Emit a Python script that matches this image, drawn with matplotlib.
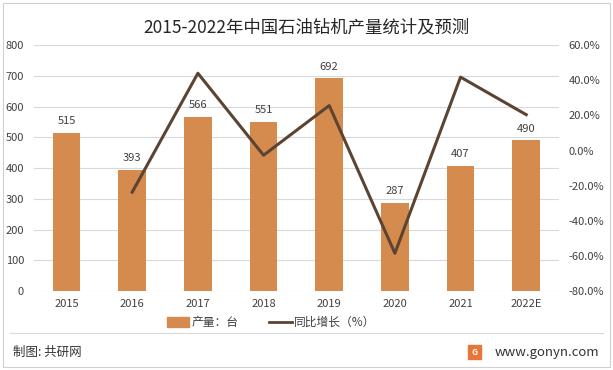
import matplotlib.pyplot as plt
from matplotlib.patches import Rectangle
from matplotlib.lines import Line2D
import numpy as np

plt.rcParams['font.family'] = ['Noto Sans CJK SC', 'DejaVu Sans']

years = ['2015', '2016', '2017', '2018', '2019', '2020', '2021', '2022E']
output = [515, 393, 566, 551, 692, 287, 407, 490]
growth = [None, -23.7, 44.0, -2.7, 25.6, -58.5, 41.8, 20.4]

bar_color = '#D68B4E'
line_color = '#5C4433'
text_color = '#404040'

fig = plt.figure(figsize=(6.13, 3.70), dpi=100)
ax = fig.add_axes([0.055, 0.2135, 0.857, 0.6645])
x = np.arange(len(years))

ax.bar(x, output, width=0.42, color=bar_color, zorder=2)
for xi, v in zip(x, output):
    ax.text(xi, v + 22, str(v), ha='center', va='bottom', fontsize=8, color=text_color)

ax.set_ylim(0, 800)
ax.set_yticks(range(0, 801, 100))
ax.set_xlim(-0.5, len(years) - 0.5)
ax.set_xticks(x)
ax.set_xticklabels(years)
ax.grid(axis='y', color='#D9D9D9', linewidth=0.8, zorder=0)
for s in ax.spines.values():
    s.set_visible(False)
ax.tick_params(length=0, labelsize=8, colors=text_color, pad=6)
ax.tick_params(axis='y', pad=7)

ax2 = ax.twinx()
gx = [xi for xi, g in zip(x, growth) if g is not None]
gy = [g for g in growth if g is not None]
ax2.plot(gx, gy, color=line_color, linewidth=2.2, zorder=3)
ax2.set_ylim(-80, 60)
ax2.set_yticks(range(-80, 61, 20))
ax2.set_yticklabels(['%.1f%%' % t for t in range(-80, 61, 20)])
for s in ax2.spines.values():
    s.set_visible(False)
ax2.tick_params(length=0, labelsize=8, colors=text_color, pad=7)

fig.text(0.5, 0.927, '2015-2022年中国石油钻机产量统计及预测', ha='center', va='center',
         fontsize=12.5, color='#262626')

# legend
handles = [Rectangle((0, 0), 1, 1, color=bar_color),
           Line2D([0], [0], color=line_color, linewidth=2)]
fig.legend(handles, ['产量：台', '同比增长（%）'], loc='center', bbox_to_anchor=(0.442, 0.128),
           ncol=2, frameon=False, fontsize=8.5, handlelength=1.9, handleheight=0.9,
           columnspacing=2.6, handletextpad=0.2, labelcolor=text_color)

# footer
fig.add_artist(Line2D([0.016, 0.984], [0.1, 0.1], color='#D9D9D9', linewidth=0.8))
fig.text(0.022, 0.048, '制图: 共研网', ha='left', va='center', fontsize=9, color='#333333')
fig.add_artist(Rectangle((0.763, 0.03), 0.022, 0.037, color='#E8763A'))
fig.text(0.774, 0.048, 'G', ha='center', va='center', fontsize=6, color='white', weight='bold')
fig.text(0.978, 0.048, 'www.gonyn.com', ha='right', va='center', fontsize=9.5, color='#333333')

# outer border
fig.add_artist(Rectangle((0.005, 0.008), 0.99, 0.984, fill=False, edgecolor='#D0D0D0',
                         linewidth=0.8))

fig.savefig('out.png', dpi=100)
